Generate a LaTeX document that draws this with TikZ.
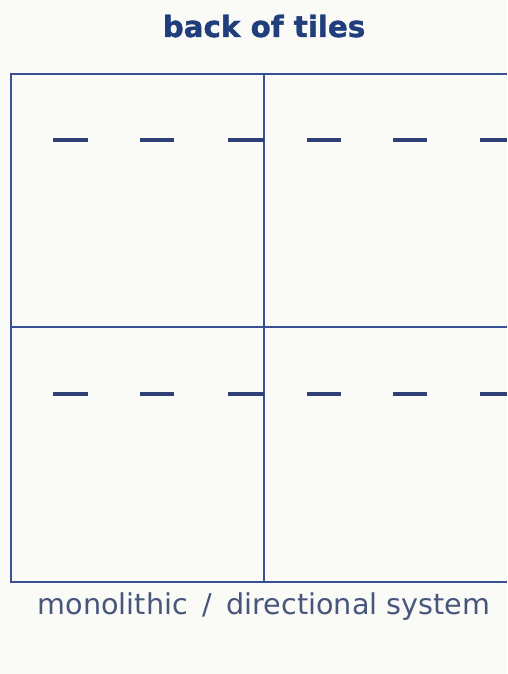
\documentclass[tikz,border=0pt]{standalone}
\usepackage{fontspec}
\setmainfont{DejaVu Sans}
\newfontfamily\heavyfont{DejaVu Sans Bold}[FakeBold=1.2]
\usepackage{xcolor}
\usepackage{tikz}
\definecolor{tileblue}{RGB}{58,80,148}
\definecolor{titleblue}{RGB}{32,62,124}
\definecolor{captiongray}{RGB}{72,86,124}
\definecolor{paper}{RGB}{250,250,246}

\begin{document}
\begin{tikzpicture}[x=0.75pt, y=-0.75pt]
    \tikzstyle{gridline} = [draw=tileblue, line width=1.4pt]
    \tikzstyle{glue} = [draw=tileblue!80!black, line width=3pt]

    % Page
    \fill[paper] (0,0) rectangle (507,674);
    \useasboundingbox (0,0) rectangle (507,674);

    \node (title) [anchor=base, font=\heavyfont\fontsize{22}{26}\selectfont, text=titleblue] at (264,37) {back of tiles};

    % Tile joints
    \draw[gridline] (507,74) -- (11,74) -- (11,582) -- (507,582);
    \draw[gridline] (11,327) -- (507,327);
    \draw[gridline] (264,74) -- (264,582);

    % Glue strips on the back
    \foreach \row in {140,394}
        \foreach \a/\b in {53/88, 140/174, 228/264, 307/341, 393/427, 480/507}
            \draw[glue] (\a,\row) -- (\b,\row);

    \node (caption) [anchor=base, font=\fontsize{21.5}{26}\selectfont, text=captiongray] at (264,614) {monolithic\hspace{4pt} / \hspace{4pt}directional~system};
\end{tikzpicture}
\end{document}
